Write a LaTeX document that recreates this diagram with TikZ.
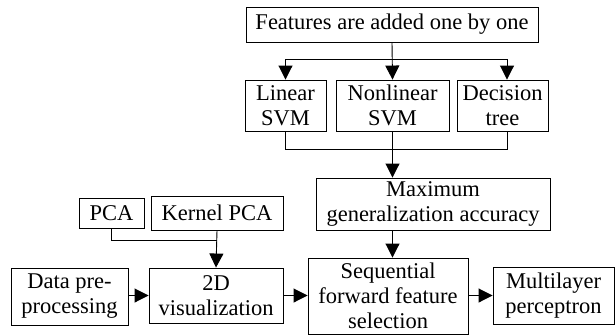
\documentclass[tikz,border=0pt]{standalone}
\usepackage{fontspec}
\setmainfont{Liberation Serif}
\usetikzlibrary{arrows.meta,calc}
\begin{document}
\begin{tikzpicture}[x=1pt,y=-1pt,
  box/.style={draw,line width=0.9pt,inner sep=0pt,align=center,
    font=\fontsize{22.5}{25}\selectfont},
  link/.style={line width=0.9pt},
  arr/.style={line width=0.9pt,-{Triangle[length=14pt,width=14pt]}}]
\useasboundingbox (0,0) rectangle (615,335);
% boxes
\node[box,minimum width=292pt,minimum height=35pt] (feat) at (392,24.5) {Features are added one by one};
\node[box,minimum width=81pt,minimum height=51pt] (lin) at (285.5,105.5) {Linear\\SVM};
\node[box,minimum width=113pt,minimum height=51pt] (non) at (392.5,105.5) {Nonlinear\\SVM};
\node[box,minimum width=91pt,minimum height=51pt] (dec) at (502.5,105.5) {Decision\\tree};
\node[box,minimum width=234pt,minimum height=52pt] (max) at (433,204) {Maximum\\generalization accuracy};
\node[box,minimum width=160pt,minimum height=76pt] (seq) at (388,296) {Sequential\\forward feature\\selection};
\node[box,minimum width=121pt,minimum height=57pt] (mlp) at (553.5,295.5) {Multilayer\\perceptron};
\node[box,minimum width=117pt,minimum height=57pt] (data) at (69.5,296.5) {Data pre-\\processing};
\node[box,minimum width=134pt,minimum height=55pt] (vis) at (216,295.5) {2D\\visualization};
\node[box,minimum width=65pt,minimum height=30pt] (pca) at (111.5,213) {PCA};
\node[box,minimum width=132pt,minimum height=34pt] (kpca) at (217,213) {Kernel PCA};
% split below the top box
\coordinate (split) at (392,59);
\draw[arr] (feat.south) -- (non.north);
\draw[arr] (split) -| (lin.north);
\draw[arr] (split) -| ([xshift=4.5pt]dec.north);
% merge above the accuracy box
\coordinate (merge) at (392,149);
\draw[link] (lin.south) |- (merge);
\draw[link] ([xshift=4.5pt]dec.south) |- (merge);
\draw[arr] (non.south) -- (non.south |- max.north);
\draw[arr] (non.south |- max.south) -- (non.south |- seq.north);
% PCA branch
\coordinate (pj) at (217,240);
\draw[link] (pca.south) |- (pj);
\draw[arr] (kpca.south) -- (vis.north);
% main flow
\draw[arr] (data.east |- vis.west) -- (vis.west);
\draw[arr] (vis.east) -- (vis.east -| seq.west);
\draw[arr] (seq.east |- mlp.west) -- (mlp.west);
\end{tikzpicture}
\end{document}
